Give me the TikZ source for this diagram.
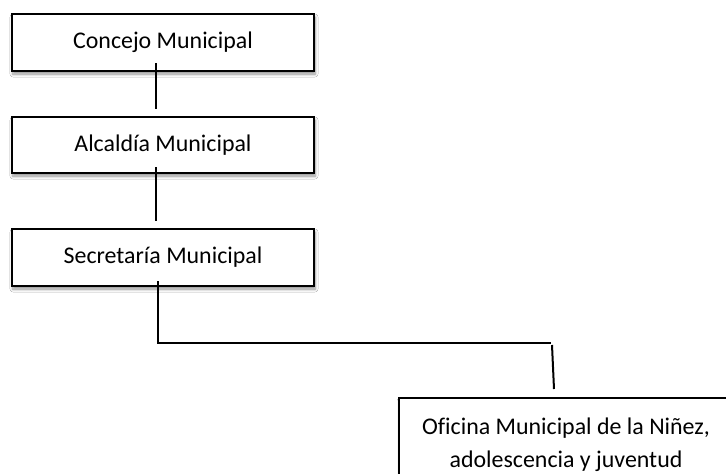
\documentclass[tikz,border=0pt]{standalone}
\usepackage{fontspec}
\setmainfont{Carlito}[Ligatures=NoCommon]
\usetikzlibrary{shadows.blur}
\tikzset{
  orgbox/.style={draw=black, line width=2pt, fill=white, inner sep=0pt, align=center,
    font=\fontsize{23.9pt}{33pt}\selectfont,
    blur shadow={shadow xshift=1pt, shadow yshift=-3pt, shadow blur radius=3pt, shadow blur steps=6, shadow opacity=45}},
  link/.style={draw=black, line width=2pt}
}
\begin{document}
\begin{tikzpicture}[x=1pt,y=1pt]
\useasboundingbox (0,0) rectangle (726,-474);
\fill[white] (0,0) rectangle (726,-474);
\coordinate (c1a) at (156,-63);
\coordinate (c1b) at (156,-109);
\coordinate (c2a) at (156,-167);
\coordinate (c2b) at (156,-221);
\coordinate (c3a) at (158,-281);
\coordinate (c3b) at (158,-343);
\coordinate (c3c) at (551,-343);
\coordinate (c3d) at (552,-345);
\coordinate (c3e) at (554,-389);
\node[orgbox, minimum width=302pt, minimum height=57pt] (b1) at (163,-42.5) {Concejo Municipal};
\node[orgbox, minimum width=302pt, minimum height=56pt] (b2) at (163,-145) {Alcaldía Municipal};
\node[orgbox, minimum width=302pt, minimum height=57pt] (b3) at (163,-257.5) {Secretaría Municipal};
\node[orgbox, minimum width=334pt, minimum height=94pt, anchor=north west] (b4) at (398,-397) {Oficina Municipal de la Niñez,\\adolescencia y juventud};
\draw[link] (c1a) -- (c1b);
\draw[link] (c2a) -- (c2b);
\draw[link] (c3a) -- (c3b) -- (c3c);
\draw[link] (c3d) -- (c3e);
\end{tikzpicture}
\end{document}
